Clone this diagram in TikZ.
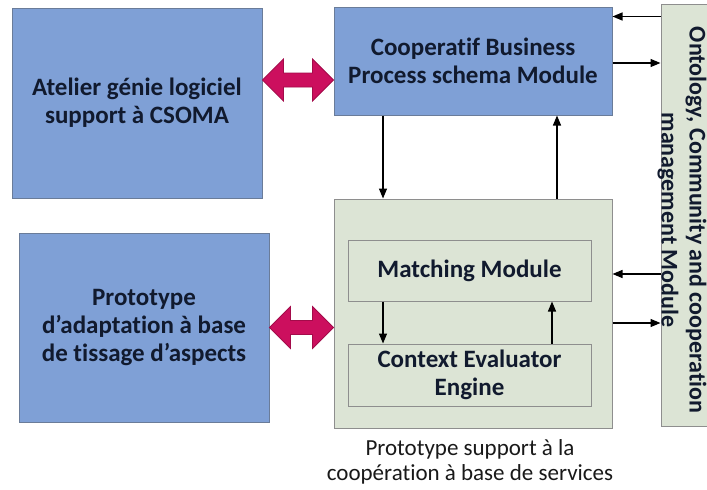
\documentclass[tikz,border=0pt]{standalone}
\usepackage{fontspec}
\setmainfont[Ligatures=NoCommon]{Carlito}
\usetikzlibrary{calc,arrows.meta}
\definecolor{bluefill}{HTML}{7FA0D6}
\definecolor{blueline}{HTML}{6A7C99}
\definecolor{greenfill}{HTML}{DCE4D5}
\definecolor{greyline}{HTML}{8E8E8E}
\definecolor{magentaA}{HTML}{CC0F5E}
\definecolor{magentaB}{HTML}{A30B4A}
\definecolor{navy}{HTML}{111A2E}
\begin{document}
\begin{tikzpicture}[x=1pt,y=-1pt,
  boxfont/.style={font=\fontsize{25}{28}\selectfont\bfseries},
  bluebox/.style={draw=blueline,fill=bluefill,line width=1pt,inner sep=0pt,align=center,text=navy,boxfont},
  greenbox/.style={draw=greyline,fill=greenfill,line width=1pt,inner sep=0pt},
  innerbox/.style={draw=greyline,fill=greenfill,line width=1pt,inner sep=0pt,align=center,text=navy,boxfont},
  arr/.style={-{Triangle[length=10pt,width=8pt]},line width=1.3pt,black},
  dbl/.style={fill=magentaA,draw=magentaB,line width=0.8pt,line join=miter}]
\useasboundingbox (0,0) rectangle (707,490);
\fill[white] (0,0) rectangle (707,490);

\node[bluebox,minimum width=250pt,minimum height=190pt] (A) at (137,103) {Atelier génie logiciel\\support à CSOMA};
\node[bluebox,minimum width=250pt,minimum height=189pt] (P) at (144,327.5) {Prototype\\d’adaptation à base\\de tissage d’aspects};
\node[bluebox,minimum width=278pt,minimum height=108pt] (C) at (473,61) {Cooperatif Business\\Process schema Module};
\node[greenbox,minimum width=278pt,minimum height=229pt] (G) at (473,313.5) {};
\node[innerbox,minimum width=243pt,minimum height=61pt] (M) at (469.5,270.5) {Matching Module};
\node[innerbox,minimum width=243pt,minimum height=62pt] (E) at (469.5,375) {Context Evaluator\\Engine};
\node[greenbox,minimum width=54pt,minimum height=422pt] (O) at (688,215) {};
\node[rotate=-90,align=center,text=navy,font=\fontsize{24}{28}\selectfont\bfseries] (Ot) at (682,220) {Ontology, Community and cooperation\\management Module};

\node[align=center,text=black!90,font=\fontsize{23}{25}\selectfont] (cap) at (470,462) {Prototype support à la\\coopération à base de services};

% magenta double arrows
\coordinate (L1) at ([yshift=23pt]A.east);
\coordinate (R1) at (C.west |- L1);
\coordinate (L2) at (P.east);
\coordinate (R2) at (G.west |- L2);
\foreach \l/\r in {L1/R1,L2/R2}{
  \draw[dbl] (\l) -- ($(\l)+(21,-21)$) -- ($(\l)+(21,-7)$) -- ($(\r)+(-21,-7)$) -- ($(\r)+(-21,-21)$) -- (\r)
    -- ($(\r)+(-21,21)$) -- ($(\r)+(-21,7)$) -- ($(\l)+(21,7)$) -- ($(\l)+(21,21)$) -- cycle;
}

% vertical arrows
\coordinate (c1) at ($(C.south)+(-90,0)$);
\coordinate (c2) at ($(C.south)+(84,0)$);
\draw[arr] (c1) -- (c1 |- G.north);
\draw[arr] (c2 |- G.north) -- (c2);
\coordinate (m1) at ($(M.south)+(-86.5,0)$);
\coordinate (m2) at ($(M.south)+(82.5,0)$);
\draw[arr] (m1) -- (m1 |- E.north);
\draw[arr] (m2 |- E.north) -- (m2);

% horizontal arrows to/from ontology module
\coordinate (h1) at ($(C.north east)+(0,10)$);
\draw[arr] (O.west |- h1) -- (h1);
\coordinate (h2) at ($(C.east)+(0,2)$);
\draw[arr] (h2) -- (O.west |- h2);
\coordinate (h3) at ($(G.east |- M.east)+(0,3.5)$);
\draw[arr] (O.west |- h3) -- (h3);
\coordinate (h4) at ($(G.east)+(0,9.5)$);
\draw[arr] (h4) -- (O.west |- h4);
\end{tikzpicture}
\end{document}
